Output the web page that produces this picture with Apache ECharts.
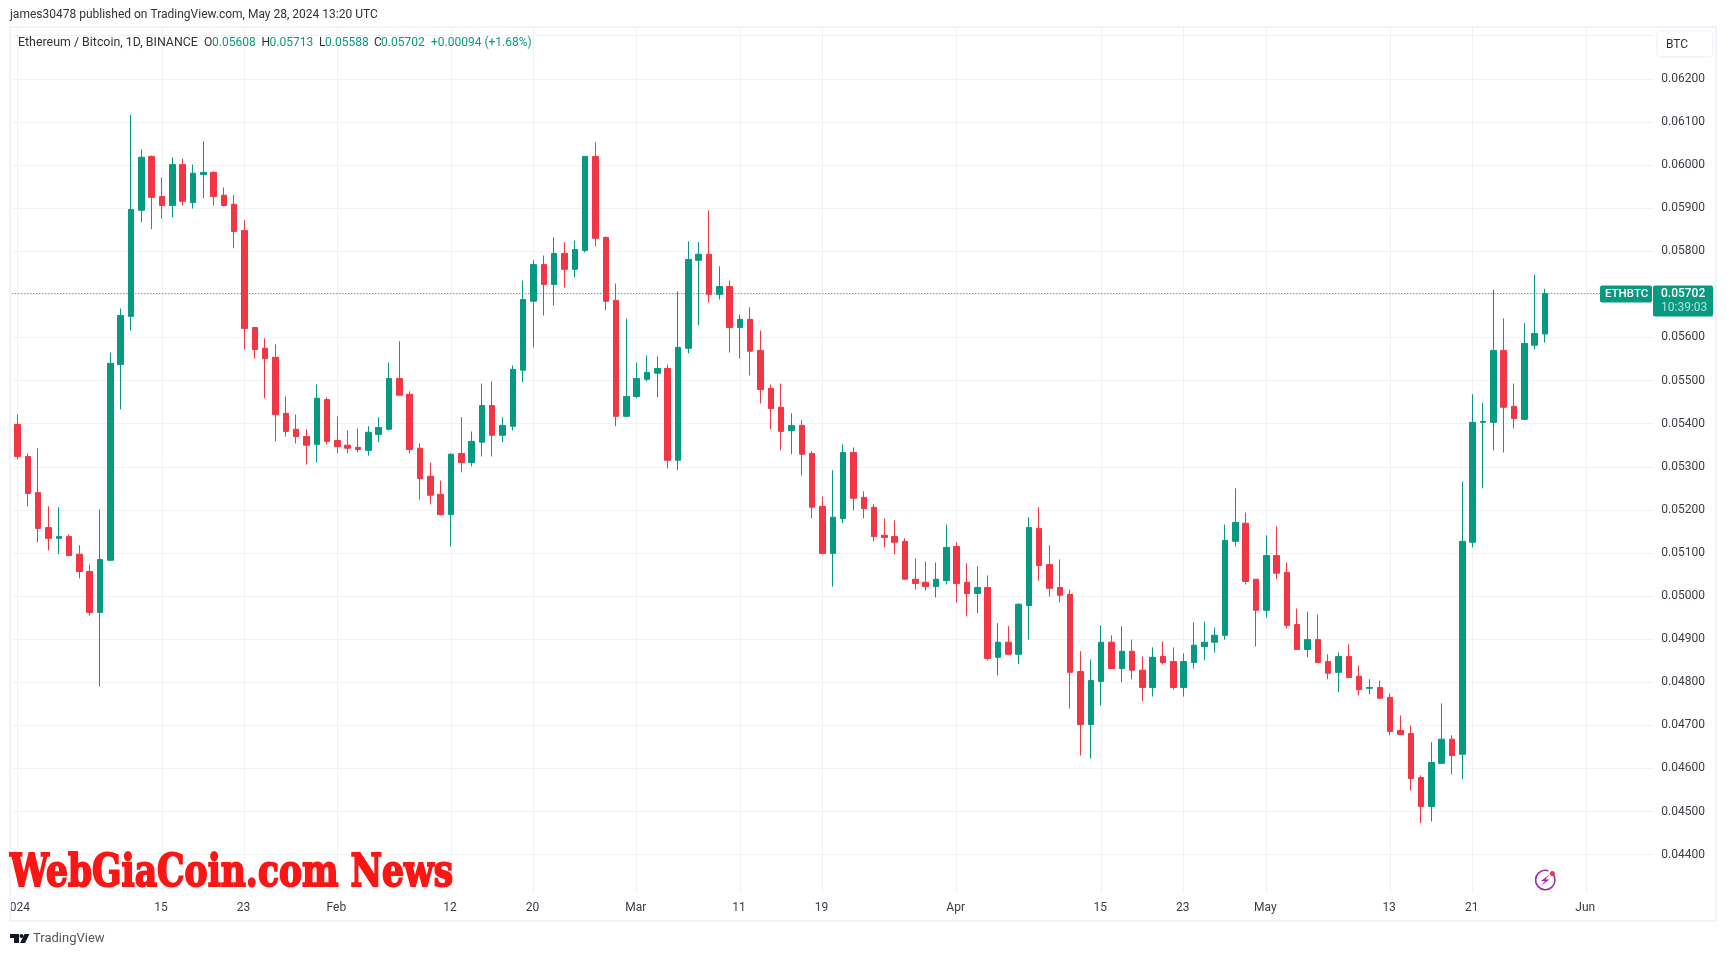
<!DOCTYPE html>
<html>
<head>
<meta charset="utf-8">
<title>ETHBTC</title>
<script src="https://cdn.jsdelivr.net/npm/echarts@6/dist/echarts.min.js"></script>
<style>
  html, body { margin: 0; padding: 0; background: #fff; }
  #chart { width: 1727px; height: 956px; }
</style>
</head>
<body>
<div id="chart"></div>
<script>
// daily candles, 1 Jan to 28 May 2024
const opens = [
  0.05398, 0.05324, 0.05240, 0.05159, 0.05134, 0.05138, 0.05097, 0.05057, 0.04962, 0.05083,
  0.05537, 0.05649, 0.05895, 0.06020, 0.05927, 0.05906, 0.06001, 0.05913, 0.05978, 0.05983,
  0.05930, 0.05909, 0.05848, 0.05623, 0.05575, 0.05554, 0.05424, 0.05387, 0.05370, 0.05352,
  0.05456, 0.05361, 0.05350, 0.05345, 0.05338, 0.05375, 0.05387, 0.05505, 0.05468, 0.05343,
  0.05278, 0.05236, 0.05189, 0.05331, 0.05310, 0.05357, 0.05442, 0.05373, 0.05394, 0.05524,
  0.05684, 0.05769, 0.05723, 0.05795, 0.05758, 0.05802, 0.06020, 0.05832, 0.05686, 0.05417,
  0.05463, 0.05503, 0.05517, 0.05528, 0.05315, 0.05575, 0.05779, 0.05793, 0.05700, 0.05718,
  0.05623, 0.05642, 0.05570, 0.05482, 0.05438, 0.05384, 0.05396, 0.05331, 0.05208, 0.05099,
  0.05180, 0.05333, 0.05229, 0.05206, 0.05141, 0.05138, 0.05127, 0.05039, 0.05032, 0.05022,
  0.05036, 0.05115, 0.05032, 0.05006, 0.05020, 0.04858, 0.04893, 0.04865, 0.04978, 0.05157,
  0.05073, 0.05020, 0.05004, 0.04825, 0.04702, 0.04802, 0.04893, 0.04832, 0.04872, 0.04828,
  0.04788, 0.04860, 0.04848, 0.04788, 0.04846, 0.04883, 0.04893, 0.04909, 0.05127, 0.05169,
  0.05039, 0.04967, 0.05094, 0.05055, 0.04934, 0.04876, 0.04899, 0.04848, 0.04823, 0.04860,
  0.04814, 0.04786, 0.04788, 0.04765, 0.04688, 0.04681, 0.04579, 0.04512, 0.04612, 0.04668,
  0.04633, 0.05125, 0.05403, 0.05403, 0.05570, 0.05440, 0.05410, 0.05582, 0.05608
];
const closes = [
  0.05324, 0.05238, 0.05157, 0.05134, 0.05138, 0.05094, 0.05057, 0.04962, 0.05085, 0.05540,
  0.05651, 0.05897, 0.06018, 0.05925, 0.05906, 0.06001, 0.05916, 0.05981, 0.05983, 0.05927,
  0.05906, 0.05846, 0.05621, 0.05572, 0.05551, 0.05421, 0.05382, 0.05370, 0.05350, 0.05459,
  0.05359, 0.05347, 0.05343, 0.05340, 0.05380, 0.05391, 0.05505, 0.05466, 0.05340, 0.05273,
  0.05234, 0.05189, 0.05329, 0.05310, 0.05359, 0.05442, 0.05373, 0.05396, 0.05526, 0.05688,
  0.05769, 0.05723, 0.05795, 0.05758, 0.05804, 0.06020, 0.05830, 0.05684, 0.05417, 0.05463,
  0.05505, 0.05519, 0.05528, 0.05315, 0.05577, 0.05781, 0.05793, 0.05700, 0.05718, 0.05623,
  0.05642, 0.05568, 0.05479, 0.05435, 0.05382, 0.05396, 0.05329, 0.05206, 0.05099, 0.05183,
  0.05333, 0.05227, 0.05203, 0.05138, 0.05136, 0.05125, 0.05039, 0.05029, 0.05022, 0.05039,
  0.05113, 0.05029, 0.05006, 0.05020, 0.04855, 0.04893, 0.04865, 0.04981, 0.05159, 0.05071,
  0.05018, 0.05002, 0.04823, 0.04702, 0.04804, 0.04893, 0.04832, 0.04872, 0.04828, 0.04788,
  0.04858, 0.04846, 0.04788, 0.04848, 0.04886, 0.04893, 0.04909, 0.05129, 0.05171, 0.05034,
  0.04967, 0.05094, 0.05053, 0.04932, 0.04876, 0.04899, 0.04846, 0.04821, 0.04860, 0.04811,
  0.04783, 0.04788, 0.04763, 0.04686, 0.04679, 0.04577, 0.04512, 0.04614, 0.04668, 0.04630,
  0.05127, 0.05403, 0.05405, 0.05570, 0.05438, 0.05412, 0.05586, 0.05609, 0.05702
];
const lows = [
  0.05317, 0.05208, 0.05125, 0.05106, 0.05097, 0.05094, 0.05041, 0.04955, 0.04790, 0.05083,
  0.05433, 0.05616, 0.05867, 0.05851, 0.05876, 0.05879, 0.05906, 0.05899, 0.05923, 0.05906,
  0.05904, 0.05807, 0.05572, 0.05551, 0.05459, 0.05359, 0.05370, 0.05354, 0.05305, 0.05310,
  0.05352, 0.05331, 0.05331, 0.05333, 0.05326, 0.05357, 0.05384, 0.05466, 0.05331, 0.05224,
  0.05213, 0.05187, 0.05115, 0.05287, 0.05301, 0.05324, 0.05324, 0.05357, 0.05384, 0.05496,
  0.05577, 0.05651, 0.05674, 0.05716, 0.05739, 0.05797, 0.05811, 0.05663, 0.05394, 0.05417,
  0.05459, 0.05498, 0.05461, 0.05296, 0.05292, 0.05563, 0.05628, 0.05681, 0.05688, 0.05565,
  0.05551, 0.05512, 0.05447, 0.05387, 0.05338, 0.05329, 0.05280, 0.05180, 0.05097, 0.05022,
  0.05169, 0.05199, 0.05180, 0.05127, 0.05113, 0.05097, 0.05039, 0.05015, 0.05013, 0.04997,
  0.05027, 0.04985, 0.04953, 0.04960, 0.04851, 0.04816, 0.04865, 0.04842, 0.04899, 0.05036,
  0.04999, 0.04985, 0.04739, 0.04630, 0.04623, 0.04746, 0.04832, 0.04800, 0.04807, 0.04756,
  0.04767, 0.04841, 0.04783, 0.04767, 0.04832, 0.04851, 0.04869, 0.04899, 0.05115, 0.05027,
  0.04883, 0.04950, 0.05039, 0.04925, 0.04876, 0.04858, 0.04846, 0.04807, 0.04777, 0.04811,
  0.04770, 0.04772, 0.04763, 0.04677, 0.04679, 0.04549, 0.04473, 0.04477, 0.04610, 0.04586,
  0.04575, 0.05113, 0.05250, 0.05338, 0.05333, 0.05389, 0.05408, 0.05572, 0.05588
];
const highs = [
  0.05421, 0.05331, 0.05343, 0.05208, 0.05206, 0.05143, 0.05118, 0.05073, 0.05201, 0.05565,
  0.05667, 0.06117, 0.06036, 0.06022, 0.05971, 0.06018, 0.06015, 0.06001, 0.06055, 0.05985,
  0.05948, 0.05930, 0.05872, 0.05623, 0.05598, 0.05584, 0.05463, 0.05421, 0.05387, 0.05491,
  0.05461, 0.05417, 0.05384, 0.05389, 0.05394, 0.05415, 0.05542, 0.05591, 0.05475, 0.05354,
  0.05310, 0.05268, 0.05331, 0.05415, 0.05382, 0.05493, 0.05498, 0.05415, 0.05535, 0.05732,
  0.05779, 0.05790, 0.05832, 0.05821, 0.05825, 0.06020, 0.06053, 0.05834, 0.05725, 0.05644,
  0.05542, 0.05558, 0.05556, 0.05537, 0.05707, 0.05823, 0.05821, 0.05895, 0.05765, 0.05732,
  0.05653, 0.05670, 0.05616, 0.05491, 0.05493, 0.05424, 0.05408, 0.05336, 0.05231, 0.05292,
  0.05352, 0.05345, 0.05243, 0.05213, 0.05180, 0.05176, 0.05134, 0.05087, 0.05080, 0.05078,
  0.05166, 0.05125, 0.05076, 0.05069, 0.05048, 0.04937, 0.04930, 0.04983, 0.05183, 0.05206,
  0.05118, 0.05085, 0.05015, 0.04872, 0.04853, 0.04932, 0.04909, 0.04930, 0.04899, 0.04860,
  0.04881, 0.04895, 0.04881, 0.04867, 0.04939, 0.04941, 0.04927, 0.05166, 0.05250, 0.05194,
  0.05039, 0.05141, 0.05162, 0.05078, 0.04971, 0.04964, 0.04957, 0.04865, 0.04869, 0.04888,
  0.04839, 0.04807, 0.04804, 0.04774, 0.04723, 0.04700, 0.04584, 0.04661, 0.04751, 0.04677,
  0.05266, 0.05468, 0.05449, 0.05711, 0.05644, 0.05493, 0.05633, 0.05746, 0.05713
];
// tick labels on the time axis (day number counted from 1 Jan)
const tickDays = [0, 14, 22, 31, 42, 50, 60, 70, 78, 91, 105, 113, 121, 133, 141, 152];
const tickLabels = ['2024', '15', '23', 'Feb', '12', '20', 'Mar', '11', '19', 'Apr', '15', '23', 'May', '13', '21', 'Jun'];
const dayCount = 159; // empty days right of the last candle, up to 7 Jun
const lastClose = 0.05702;

const UP = '#089981';
const DOWN = '#f23645';
const FONT = 'Roboto, sans-serif';
const TEXT = '#3a3d45';
const GRID = '#f1f2f4';
const BORDER = '#f0f3fa';

const days = [];
for (let i = 0; i < dayCount; i++) days.push(String(i));

const candles = opens.map((o, i) => [o, closes[i], lows[i], highs[i]]);

function isTick(index) {
  return tickDays.indexOf(index) >= 0;
}

function label(x, y, text, color, size, extra) {
  return {
    type: 'text', x: x, y: y, z: 120, silent: true,
    style: Object.assign({
      text: text, fill: color, font: size + 'px ' + FONT, textVerticalAlign: 'middle'
    }, extra || {})
  };
}

const chart = echarts.init(document.getElementById('chart'), null, { renderer: 'canvas' });

chart.setOption({
  animation: false,
  backgroundColor: '#fff',
  grid: { left: 9.6, right: 73.7, top: 27.1, bottom: 58.2 },
  xAxis: {
    type: 'category',
    data: days,
    boundaryGap: true,
    axisLine: { show: false },
    axisTick: { show: false },
    axisLabel: {
      interval: (index) => isTick(index),
      formatter: (value) => tickLabels[tickDays.indexOf(Number(value))],
      color: TEXT,
      fontFamily: FONT,
      fontSize: 12,
      margin: 4,
      padding: [0, 2, 0, 0]
    },
    splitLine: {
      show: true,
      alignWithLabel: true,
      interval: (index) => isTick(index),
      lineStyle: { color: GRID, width: 1 }
    }
  },
  yAxis: {
    type: 'value',
    position: 'right',
    scale: true,
    min: 0.043,
    max: 0.0632,
    interval: 0.001,
    axisLine: { show: false },
    axisTick: { show: false },
    axisLabel: {
      // 0.04300 and 0.06300 sit outside the visible scale, the badge covers the top one
      formatter: (value) => (value < 0.0435 || value > 0.0625) ? '' : value.toFixed(5),
      color: TEXT,
      fontFamily: FONT,
      fontSize: 12,
      margin: 8,
      padding: [1, 0, 0, 0]
    },
    splitLine: {
      show: true,
      showMinLine: false,
      showMaxLine: false,
      lineStyle: { color: GRID, width: 1 }
    }
  },
  series: [{
    type: 'candlestick',
    data: candles,
    barWidth: 6,
    silent: true,
    itemStyle: {
      color: UP,
      color0: DOWN,
      borderColor: UP,
      borderColor0: DOWN,
      borderWidth: 1
    },
    markLine: {
      silent: true,
      symbol: 'none',
      animation: false,
      precision: 5,
      label: { show: false },
      lineStyle: { color: UP, type: [1, 2], width: 1 },
      data: [{ yAxis: lastClose }]
    }
  }]
});

// price tag follows the last close on the scale
const tagY = chart.convertToPixel({ yAxisIndex: 0 }, lastClose);

chart.setOption({
  graphic: [
    // trims the axis so the pane ends at its frame, like the "2024" cut at the left edge
    { type: 'rect', z: 100, silent: true, shape: { x: 0, y: 860, width: 9, height: 70 }, style: { fill: '#fff' } },
    { type: 'rect', z: 100, silent: true, shape: { x: 11, y: 893, width: 1642, height: 5 }, style: { fill: '#fff' } },
    { type: 'rect', z: 101, silent: true, shape: { x: 10, y: 27, width: 1706, height: 894 },
      style: { fill: 'none', stroke: BORDER, lineWidth: 2 } },

    label(10, 15, 'james30478 published on TradingView.com, May 28, 2024 13:20 UTC', '#333', 12),
    label(18, 42.5, 'Ethereum / Bitcoin, 1D, BINANCE', '#333', 12, { font: '12.4px ' + FONT }),
    label(204, 42.5, 'O', '#333', 12),
    label(212, 42.5, '0.05608', UP, 12),
    label(261.5, 42.5, 'H', '#333', 12),
    label(269.5, 42.5, '0.05713', UP, 12),
    label(319, 42.5, 'L', '#333', 12),
    label(325, 42.5, '0.05588', UP, 12),
    label(374, 42.5, 'C', '#333', 12),
    label(381, 42.5, '0.05702', UP, 12),
    label(431, 42.5, '+0.00094 (+1.68%)', UP, 12),

    // unit badge
    { type: 'rect', z: 110, silent: true, shape: { x: 1657, y: 31, width: 56, height: 26, r: 4 },
      style: { fill: '#fff', stroke: BORDER, lineWidth: 1.5 } },
    label(1666, 44.5, 'BTC', '#333', 12),

    // last price tags
    { type: 'rect', z: 110, silent: true, shape: { x: 1600, y: tagY - 8, width: 52, height: 17, r: 2 }, style: { fill: UP } },
    { type: 'rect', z: 110, silent: true, shape: { x: 1653, y: tagY - 8, width: 60, height: 31, r: 2 }, style: { fill: UP } },
    label(1605, tagY + 0.5, 'ETHBTC', '#fff', 11.5, { font: '500 11.5px ' + FONT }),
    label(1661, tagY + 0.5, '0.05702', '#fff', 12, { font: '500 12px ' + FONT }),
    label(1661, tagY + 14.5, '10:39:03', '#b5e0d7', 12),

    // site watermark
    { type: 'text', x: 10, y: 875, z: 115, scaleX: 0.785, silent: true,
      style: { text: 'WebGiaCoin.com News', fill: '#fb1616', stroke: '#fb1616', lineWidth: 2,
        font: 'bold 44px "DejaVu Serif", serif', textVerticalAlign: 'middle' } },

    // TradingView mark and name
    { type: 'polygon', z: 120, silent: true,
      shape: { points: [[10, 934], [19, 934], [19, 943], [14, 943], [14, 938], [10, 938]] }, style: { fill: '#131722' } },
    { type: 'circle', z: 120, silent: true, shape: { cx: 21.5, cy: 936, r: 2 }, style: { fill: '#131722' } },
    { type: 'polygon', z: 120, silent: true,
      shape: { points: [[24.5, 934], [29.5, 934], [25, 943], [20, 943]] }, style: { fill: '#131722' } },
    label(33, 939, 'TradingView', '#555', 13),

    // lightning icon
    { type: 'arc', z: 120, silent: true, shape: { cx: 1545.3, cy: 880, r: 9.7, startAngle: -0.75, endAngle: -1.25, clockwise: true },
      style: { stroke: '#9c27b0', lineWidth: 1.6, fill: 'none' } },
    { type: 'polygon', z: 120, silent: true,
      shape: { points: [[1549.5, 874.5], [1541, 881], [1545, 881], [1541, 885.5], [1549.5, 879.5], [1545.5, 879.5]] },
      style: { fill: '#9c27b0' } },
    { type: 'circle', z: 121, silent: true, shape: { cx: 1552.3, cy: 873.5, r: 2.5 }, style: { fill: DOWN } }
  ]
});
</script>
</body>
</html>
